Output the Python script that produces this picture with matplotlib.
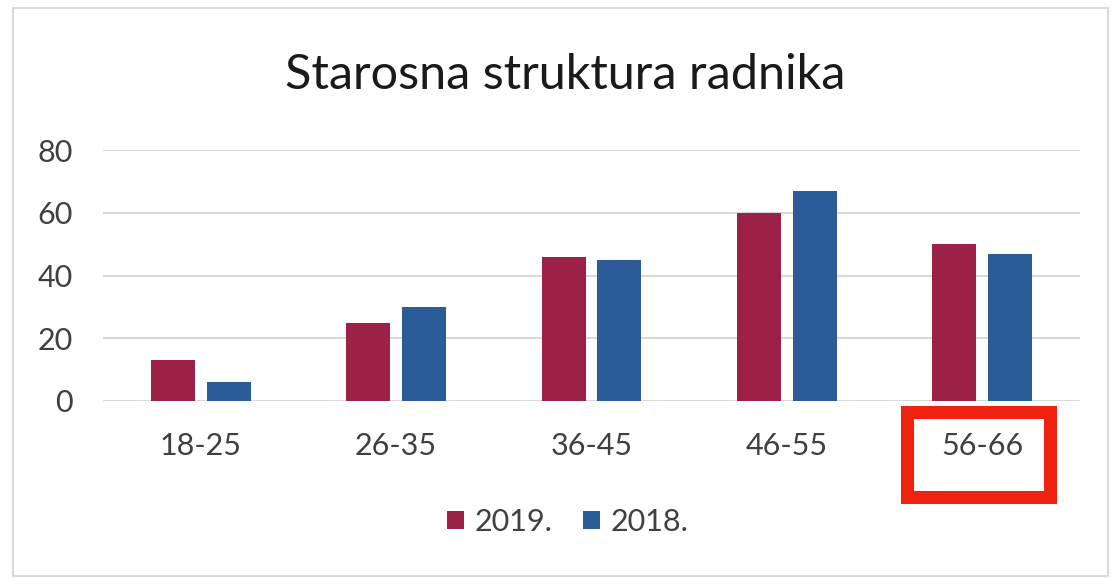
import matplotlib.pyplot as plt
from matplotlib.patches import Rectangle
import numpy as np

plt.rcParams['font.family'] = ['Lato', 'DejaVu Sans']

categories = ["18-25", "26-35", "36-45", "46-55", "56-66"]
values_2019 = [13, 25, 46, 60, 50]
values_2018 = [6, 30, 45, 67, 47]
series_labels = ["2019.", "2018."]
y_ticks = [0, 20, 40, 60, 80]

color_2019 = "#9c2147"
color_2018 = "#2a5d97"
text_color = "#404040"

W, H = 1113, 578
fig = plt.figure(figsize=(W / 100, H / 100), dpi=100)
ax = fig.add_axes([103 / W, 1 - 401 / H, 977 / W, 251 / H])

x = np.arange(len(categories))
width = 0.225
offset = 0.143
ax.bar(x - offset, values_2019, width, color=color_2019, label=series_labels[0], zorder=3)
ax.bar(x + offset, values_2018, width, color=color_2018, label=series_labels[1], zorder=3)

ax.set_xlim(-0.5, len(categories) - 0.5)
ax.set_ylim(0, 80)
ax.set_yticks(y_ticks)
ax.set_xticks(x)
ax.set_xticklabels(categories)
ax.yaxis.grid(True, color="#d9d9d9", linewidth=1.5, zorder=0)
for side in ["top", "right", "left", "bottom"]:
    ax.spines[side].set_visible(False)
ax.tick_params(axis="both", length=0, labelsize=22, labelcolor=text_color)
ax.tick_params(axis="y", pad=22)
ax.tick_params(axis="x", pad=22)

fig.text(0.508, 1 - 75 / H, "Starosna struktura radnika", ha="center", va="center",
         fontsize=35, color="#1a1a1a")

fig.legend(loc="center", bbox_to_anchor=(0.51, 1 - 522 / H), ncol=2, frameon=False,
           fontsize=22, handlelength=0.55, handleheight=0.55, handletextpad=0.35,
           columnspacing=1.0, labelcolor=text_color)

# outer chart frame
fig.patches.append(Rectangle((13 / W, 1 - 576 / H), 1095 / W, 568 / H,
                             transform=fig.transFigure, fill=False,
                             edgecolor="#dadada", linewidth=1.5))

# highlight box around the last category label
fig.patches.append(Rectangle((906.5 / W, 1 - 496.5 / H), 143 / W, 85 / H,
                             transform=fig.transFigure, fill=False,
                             edgecolor="#ee2211", linewidth=9.4))

fig.savefig("out.png", dpi=100)
